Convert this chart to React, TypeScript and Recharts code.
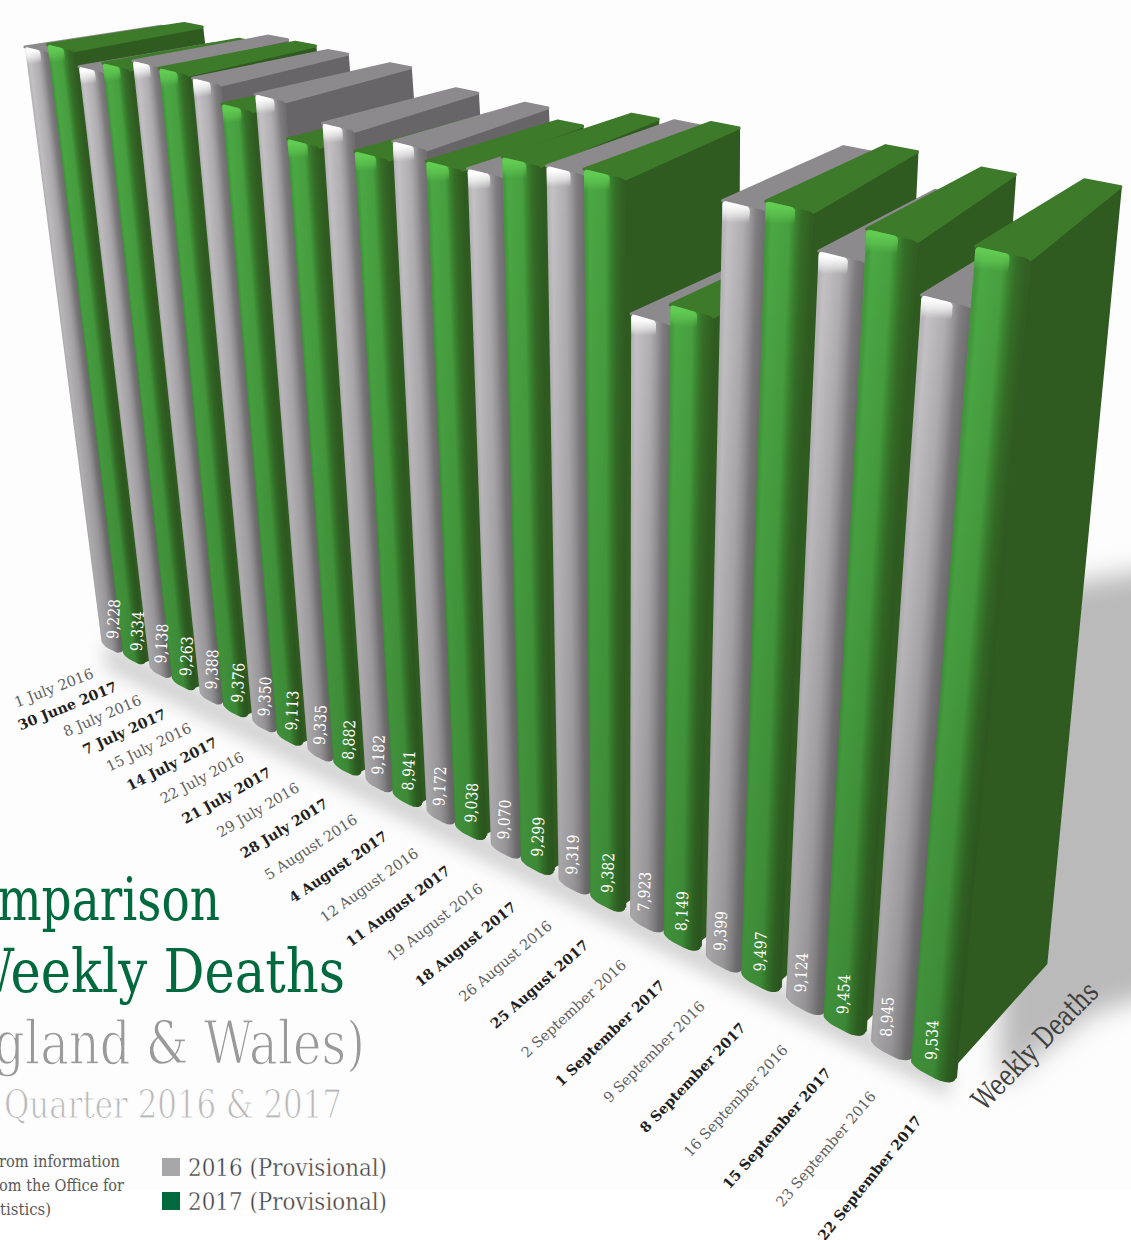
import { Bar, BarChart, LabelList, XAxis, YAxis } from 'recharts'

const weeks2016 = [
  '1 July 2016', '8 July 2016', '15 July 2016', '22 July 2016', '29 July 2016',
  '5 August 2016', '12 August 2016', '19 August 2016', '26 August 2016',
  '2 September 2016', '9 September 2016', '16 September 2016', '23 September 2016',
]
const deaths2016 = [9228, 9138, 9388, 9350, 9335, 9182, 9172, 9070, 9319, 7923, 9399, 9124, 8945]

const weeks2017 = [
  '30 June 2017', '7 July 2017', '14 July 2017', '21 July 2017', '28 July 2017',
  '4 August 2017', '11 August 2017', '18 August 2017', '25 August 2017',
  '1 September 2017', '8 September 2017', '15 September 2017', '22 September 2017',
]
const deaths2017 = [9334, 9263, 9376, 9113, 8882, 8941, 9038, 9299, 9382, 8149, 9497, 9454, 9534]

// one flat category list so the bars paint strictly left to right
const rows = weeks2016.flatMap((week, i) => [
  { week, deaths: deaths2016[i], year: 2016 },
  { week: weeks2017[i], deaths: deaths2017[i], year: 2017 },
])

const W = 1131
const H = 1240
const MIN = 0
const MAX = 10000
const REF = 9534
const SERIF = '"DejaVu Serif", serif'

type Pt = [number, number]

// unit square -> quad, corners given as (0,0) (1,0) (1,1) (0,1)
function quadMap(p0: Pt, p1: Pt, p2: Pt, p3: Pt) {
  const dx1 = p1[0] - p2[0]
  const dx2 = p3[0] - p2[0]
  const sx = p0[0] - p1[0] + p2[0] - p3[0]
  const dy1 = p1[1] - p2[1]
  const dy2 = p3[1] - p2[1]
  const sy = p0[1] - p1[1] + p2[1] - p3[1]
  const det = dx1 * dy2 - dx2 * dy1
  const g = (sx * dy2 - dx2 * sy) / det
  const h = (dx1 * sy - sx * dy1) / det
  const a = p1[0] - p0[0] + g * p1[0]
  const b = p3[0] - p0[0] + h * p3[0]
  const d = p1[1] - p0[1] + g * p1[1]
  const e = p3[1] - p0[1] + h * p3[1]
  return (u: number, v: number): Pt => {
    const w = g * u + h * v + 1
    return [(a * u + b * v + p0[0]) / w, (d * u + e * v + p0[1]) / w]
  }
}

// the chart's flat plot area folded onto the front and back walls of the block
const frontWall = quadMap([102, 645], [961, 1092], [1039, 261], [22, 24])
const backWall = quadMap([227, 596], [1052, 966], [1128, 188], [151, 3])

const refY = H * (1 - (REF - MIN) / (MAX - MIN))
const toU = (x: number) => x / W
const toV = (y: number) => (H - y) / (H - refY)
const front = (x: number, y: number) => frontWall(toU(x), toV(y))
const back = (x: number, y: number) => backWall(toU(x), toV(y))

const toPath = (pts: Pt[]) =>
  'M' + pts.map((p) => `${p[0].toFixed(1)} ${p[1].toFixed(1)}`).join('L') + 'Z'

function arc(cx: number, cy: number, rx: number, ry: number, from: number, out: Pt[]) {
  for (let k = 0; k <= 6; k++) {
    const t = from + (k / 6) * (Math.PI / 2)
    out.push([cx + rx * Math.cos(t), cy + ry * Math.sin(t)])
  }
}

// rounded front of a bar, still in plot coordinates
function outline(l: number, r: number, t: number, b: number) {
  const w = r - l
  const tx = w * 0.12
  const ty = 5
  const pts: Pt[] = []
  arc(l + tx, t + ty, tx, ty, Math.PI, pts)
  arc(r - tx, t + ty, tx, ty, -Math.PI / 2, pts)
  arc(r - w * 0.45, b - 20, w * 0.45, 20, 0, pts)
  arc(l + w * 0.3, b - 9, w * 0.3, 9, Math.PI / 2, pts)
  return pts
}

const palette = {
  2016: {
    top: '#8c8a8c',
    side: '#676567',
    glow: '#ffffff',
    stops: [
      [0, '#b8b6b8'], [0.1, '#c4c2c4'], [0.48, '#b0aeb0'], [0.66, '#989698'], [0.8, '#7f7d7f'], [1, '#706e70'],
    ],
  },
  2017: {
    top: '#3d7a2a',
    side: '#2f5a20',
    glow: '#62cc52',
    stops: [
      [0, '#43993c'], [0.1, '#4ba844'], [0.5, '#47a03f'], [0.64, '#3b8430'], [0.78, '#356d27'], [1, '#315e22'],
    ],
  },
}

function BlockBar(props: any) {
  const { x, y, width, height, index, payload } = props
  const colors = palette[payload.year as 2016 | 2017]
  const green = payload.year === 2017
  const l = green ? x - width * 0.1 : x
  const r = green ? x + width * 0.86 : x + width * 0.92
  const b = y + height

  const leftMid = front(l, y + height / 2)
  const rightMid = front(r, y + height / 2)
  const topMid = front((l + r) / 2, y)
  const botMid = front((l + r) / 2, b)

  // gradient axis square to the leaning bar
  const ax = topMid[0] - botMid[0]
  const ay = topMid[1] - botMid[1]
  const len = Math.hypot(ax, ay)
  const nx = -ay / len
  const ny = ax / len
  const span = (rightMid[0] - leftMid[0]) * nx + (rightMid[1] - leftMid[1]) * ny

  const frontPath = toPath(outline(l, r, y, b).map((p) => front(p[0], p[1])))
  const topPath = toPath([front(l, y), back(l + (r - l) * 0.3, y), back(r, y), front(r, y)])
  const sidePath = toPath([
    front(r, y),
    back(r, y),
    back(r, b),
    front(r - (r - l) * 0.3, b - 3),
    front(r, b - 20),
  ])
  const glowPath = toPath(outline(l, l + (r - l) * 0.62, y, y + 34).map((p) => front(p[0], p[1])))
  const glowEnd = front((l + r) / 2, y + 22)

  return (
    <g>
      <defs>
        <linearGradient
          id={`face-${index}`}
          gradientUnits="userSpaceOnUse"
          x1={leftMid[0]}
          y1={leftMid[1]}
          x2={leftMid[0] + nx * span}
          y2={leftMid[1] + ny * span}
        >
          {colors.stops.map(([o, c]) => (
            <stop key={o as number} offset={o as number} stopColor={c as string} />
          ))}
        </linearGradient>
        <linearGradient
          id={`fall-${index}`}
          gradientUnits="userSpaceOnUse"
          x1={topMid[0]}
          y1={topMid[1]}
          x2={botMid[0]}
          y2={botMid[1]}
        >
          <stop offset={0} stopColor="#000" stopOpacity={0} />
          <stop offset={1} stopColor="#000" stopOpacity={0.15} />
        </linearGradient>
        <linearGradient
          id={`glow-${index}`}
          gradientUnits="userSpaceOnUse"
          x1={topMid[0]}
          y1={topMid[1]}
          x2={glowEnd[0]}
          y2={glowEnd[1]}
        >
          <stop offset={0} stopColor={colors.glow} stopOpacity={1} />
          <stop offset={0.5} stopColor={colors.glow} stopOpacity={0.6} />
          <stop offset={1} stopColor={colors.glow} stopOpacity={0} />
        </linearGradient>
      </defs>
      <path d={sidePath} fill={colors.side} stroke={colors.side} strokeWidth={2} strokeLinejoin="round" />
      <path d={topPath} fill={colors.top} stroke={colors.top} strokeWidth={3} strokeLinejoin="round" />
      <path d={frontPath} fill={`url(#face-${index})`} />
      <path d={frontPath} fill={`url(#fall-${index})`} />
      <path d={glowPath} fill={`url(#glow-${index})`} />
    </g>
  )
}

function ValueLabel(props: any) {
  const box = props.viewBox ?? props
  const { x, width } = box
  const i = props.index as number
  const t = i / 25
  const p = front(x + width * 0.42, H)
  const rise = 11 + 7 * t
  const px = p[0] + 6 - 4 * t
  const py = p[1] - rise
  return (
    <text
      x={px}
      y={py}
      transform={`rotate(-87 ${px} ${py})`}
      fill="#ffffff"
      fontFamily={SERIF}
      fontSize={16}
      textAnchor="start"
      textLength={40}
      lengthAdjust="spacingAndGlyphs"
    >
      {Number(props.value).toLocaleString('en-GB')}
    </text>
  )
}

function WeekTick(props: any) {
  const { x, payload, index } = props
  const i = (index ?? payload.index) as number
  const t = i / 25
  const tip = front(x - (W / 26) * 0.05, H)
  const ex = tip[0] - 18 - 7 * t + 30 * Math.max(0, t - 0.6)
  const ey = tip[1] + 27 + 15 * t
  const bold = i % 2 === 1
  return (
    <text
      x={ex}
      y={ey}
      transform={`rotate(${-21 - 1.2 * i} ${ex} ${ey})`}
      textAnchor="end"
      fontFamily={SERIF}
      fontSize={bold ? 14.2 : 14.5}
      fontWeight={bold ? 700 : 400}
      fill={bold ? '#1f1f1f' : '#5f5f5f'}
    >
      {payload.value}
    </text>
  )
}

function Thin({ children, ...rest }: any) {
  // white outline on top of the fill to get a lighter slab weight
  return (
    <text fontFamily={SERIF} stroke="#fff" {...rest}>
      {children}
    </text>
  )
}

export default function App() {
  return (
    <div style={{ position: 'absolute', left: 0, top: 0, width: W, height: H, overflow: 'hidden', background: '#fff' }}>
      <svg width={W} height={H} style={{ position: 'absolute', left: 0, top: 0 }}>
        <defs>
          <filter id="floor-soft" x="-30%" y="-30%" width="160%" height="160%">
            <feGaussianBlur stdDeviation="13" />
          </filter>
          <filter id="edge-soft" x="-10%" y="-30%" width="120%" height="160%">
            <feGaussianBlur stdDeviation="9" />
          </filter>
        </defs>
        <rect width={W} height={1190} fill="#fdfdfd" />
        <path
          d="M1060 585 L1180 565 L1180 985 L1090 1015 L1000 1085 L1000 800 Z"
          fill="#bababa"
          filter="url(#floor-soft)"
        />
        <path d="M105 640 L950 1070 L950 1098 L105 668 Z" fill="#d2d2d2" filter="url(#edge-soft)" />
      </svg>
      <div style={{ position: 'absolute', left: 0, top: 0 }}>
        <BarChart
          width={W}
          height={H + 1}
          data={rows}
          margin={{ top: 0, right: 0, bottom: 0, left: 0 }}
          barCategoryGap={0}
          barGap={0}
        >
          <XAxis
            dataKey="week"
            height={1}
            interval={0}
            axisLine={false}
            tickLine={false}
            tick={WeekTick}
          />
          <YAxis hide domain={[MIN, MAX]} />
          <Bar dataKey="deaths" shape={BlockBar} isAnimationActive={false}>
            <LabelList dataKey="deaths" content={ValueLabel} />
          </Bar>
        </BarChart>
      </div>
      <svg width={W} height={H} style={{ position: 'absolute', left: 0, top: 0 }}>
        <text x={-3} y={920} fontFamily={SERIF} fontSize={59} fill="#006a3e" textLength={223} lengthAdjust="spacingAndGlyphs">
          mparison
        </text>
        <text x={-38} y={992} fontFamily={SERIF} fontSize={59} fill="#006a3e" textLength={383} lengthAdjust="spacingAndGlyphs">
          Weekly Deaths
        </text>
        <Thin x={-6} y={1064} fontSize={59} strokeWidth={1.4} fill="#9a9a9a" textLength={371} lengthAdjust="spacingAndGlyphs">
          gland &amp; Wales)
        </Thin>
        <Thin x={4} y={1118} fontSize={40} strokeWidth={1} fill="#b8b8b8" textLength={338} lengthAdjust="spacingAndGlyphs">
          Quarter 2016 &amp; 2017
        </Thin>
        <text x={-1} y={1167} fontFamily={SERIF} fontSize={16} fill="#595959" textLength={121} lengthAdjust="spacingAndGlyphs">rom information</text>
        <text x={-1} y={1191} fontFamily={SERIF} fontSize={16} fill="#595959" textLength={125} lengthAdjust="spacingAndGlyphs">om the Office for</text>
        <text x={0} y={1215} fontFamily={SERIF} fontSize={16} fill="#595959" textLength={51} lengthAdjust="spacingAndGlyphs">tistics)</text>
        <rect x={162} y={1158} width={18} height={18} fill="#a7a7a9" />
        <rect x={162} y={1192} width={18} height={18} fill="#006a3e" />
        <Thin x={188} y={1176} fontSize={25} strokeWidth={0.4} fill="#3f3f3f" textLength={199} lengthAdjust="spacingAndGlyphs">
          2016 (Provisional)
        </Thin>
        <Thin x={188} y={1210} fontSize={25} strokeWidth={0.4} fill="#3f3f3f" textLength={199} lengthAdjust="spacingAndGlyphs">
          2017 (Provisional)
        </Thin>
        <text
          x={984}
          y={1112}
          fontFamily={SERIF}
          fontSize={29}
          fill="#3f3f3f"
          textLength={166}
          lengthAdjust="spacingAndGlyphs"
          transform="rotate(-45.5 984 1112)"
        >
          Weekly Deaths
        </text>
      </svg>
    </div>
  )
}
